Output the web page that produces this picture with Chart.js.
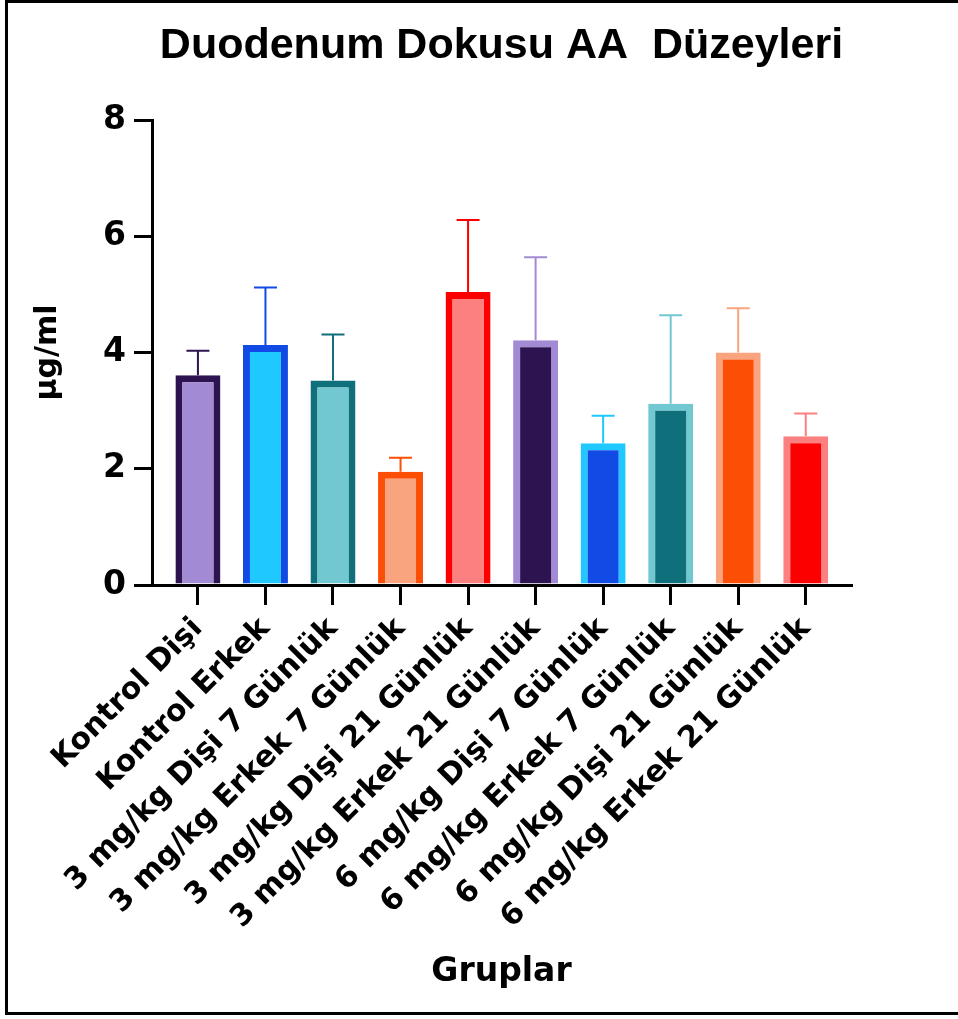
<!DOCTYPE html>
<html>
<head>
<meta charset="utf-8">
<script src="https://cdn.jsdelivr.net/npm/chart.js@4"></script>
<style>
  body { margin: 0; background: #fff; }
  canvas { display: block; }
</style>
</head>
<body>
<canvas id="barChart" width="958" height="1019"></canvas>
<script>
const groups = [
  "Kontrol Dişi",
  "Kontrol Erkek",
  "3 mg/kg Dişi 7 Günlük",
  "3 mg/kg Erkek 7 Günlük",
  "3 mg/kg Dişi 21 Günlük",
  "3 mg/kg Erkek 21 Günlük",
  "6 mg/kg Dişi 7 Günlük",
  "6 mg/kg Erkek 7 Günlük",
  "6 mg/kg Dişi 21 Günlük",
  "6 mg/kg Erkek 21 Günlük",
];
const means = [3.61, 4.13, 3.52, 1.95, 5.04, 4.21, 2.44, 3.12, 4.0, 2.56];
const errors = [0.42, 0.99, 0.79, 0.24, 1.24, 1.43, 0.47, 1.52, 0.76, 0.39];
const fillColors = [
  "#a38ad4", "#1fc8ff", "#72c8d0", "#faa37f", "#fc8080",
  "#2d1450", "#124ae6", "#0f6f7b", "#fc4f05", "#fc0000",
];
const edgeColors = [
  "#2d1450", "#124ae6", "#0f6f7b", "#fc4f05", "#fc0000",
  "#a38ad4", "#1fc8ff", "#72c8d0", "#faa37f", "#fc8080",
];
const yTicks = [0, 2, 4, 6, 8];

Chart.defaults.font.family = "'DejaVu Sans', sans-serif";
Chart.defaults.font.weight = "bold";
Chart.defaults.color = "#000";

// frame round the picture + white background
const framePlugin = {
  id: "frame",
  beforeDraw(chart) {
    const ctx = chart.ctx;
    ctx.save();
    ctx.fillStyle = "#fff";
    ctx.fillRect(0, 0, chart.width, chart.height);
    ctx.fillStyle = "#000";
    ctx.fillRect(5, 0, chart.width - 5, 3);
    ctx.fillRect(5, 0, 3, 1015);
    ctx.fillRect(5, 1012, chart.width - 5, 3);
    ctx.restore();
  },
};

// SEM style error bars, upward only
const errorBarPlugin = {
  id: "errorBars",
  afterDatasetsDraw(chart) {
    const ctx = chart.ctx;
    const yScale = chart.scales.y;
    const meta = chart.getDatasetMeta(0);
    ctx.save();
    ctx.lineWidth = 2;
    meta.data.forEach((bar, i) => {
      const top = yScale.getPixelForValue(means[i] + errors[i]);
      ctx.strokeStyle = edgeColors[i];
      ctx.beginPath();
      ctx.moveTo(bar.x, bar.y);
      ctx.lineTo(bar.x, top);
      ctx.moveTo(bar.x - 11.5, top);
      ctx.lineTo(bar.x + 11.5, top);
      ctx.stroke();
    });
    ctx.restore();
  },
};

const ctx = document.getElementById("barChart");
new Chart(ctx, {
  type: "bar",
  data: {
    datasets: [
      {
        data: means.map((v, i) => ({ x: i, y: v })),
        backgroundColor: fillColors,
        borderColor: edgeColors,
        borderWidth: 7,
        borderSkipped: "start",
        categoryPercentage: 1,
        barPercentage: 0.666,
      },
    ],
  },
  options: {
    responsive: false,
    animation: false,
    layout: { padding: { top: 0, left: 10, right: 107, bottom: 10 } },
    plugins: {
      legend: { display: false },
      tooltip: { enabled: false },
      title: {
        display: true,
        text: "Duodenum Dokusu AA  Düzeyleri",
        fullSize: false,
        font: { family: "'Liberation Sans', sans-serif", size: 43, weight: "bold" },
        padding: { top: 20, bottom: 48.4 },
      },
    },
    scales: {
      x: {
        type: "linear",
        min: -0.68,
        max: 9.67,
        offset: false,
        afterBuildTicks: (scale) => {
          scale.ticks = groups.map((g, i) => ({ value: i }));
        },
        afterFit: (scale) => {
          scale.height = 424;
        },
        ticks: {
          autoSkip: false,
          minRotation: 45,
          maxRotation: 45,
          padding: 6,
          font: { size: 30 },
          callback: (v) => groups[v],
        },
        grid: {
          offset: false,
          drawOnChartArea: false,
          tickLength: 20,
          lineWidth: 3,
          color: "#000",
        },
        border: { width: 3, color: "#000" },
        title: {
          display: true,
          text: "Gruplar",
          font: { size: 33 },
          padding: { bottom: 17 },
        },
      },
      y: {
        min: 0,
        max: 8,
        afterBuildTicks: (scale) => {
          scale.ticks = yTicks.map((v) => ({ value: v }));
        },
        afterFit: (scale) => {
          scale.width = 142;
        },
        ticks: {
          padding: 8,
          font: { size: 33 },
        },
        grid: {
          drawOnChartArea: false,
          tickLength: 18,
          lineWidth: 3,
          color: "#000",
        },
        border: { width: 3, color: "#000" },
        title: {
          display: true,
          text: "µg/ml",
          font: { size: 30 },
          padding: { top: 20 },
        },
      },
    },
  },
  plugins: [framePlugin, errorBarPlugin],
});
</script>
</body>
</html>
